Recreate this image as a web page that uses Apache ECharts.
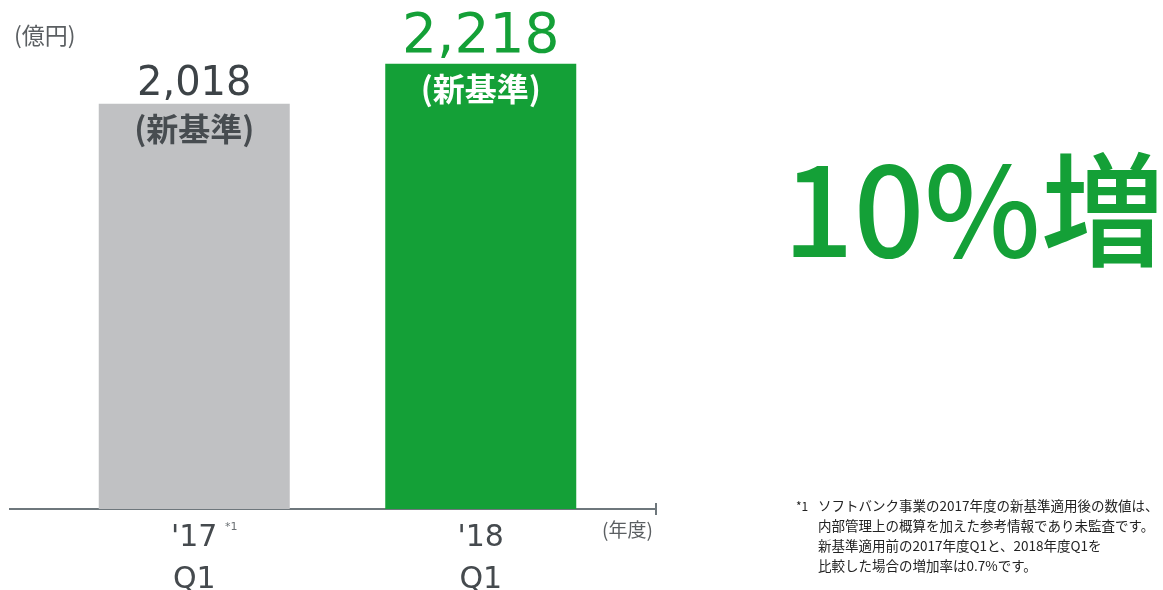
<!DOCTYPE html>
<html lang="ja">
<head>
<meta charset="utf-8">
<title>売上高 Q1</title>
<script src="https://cdn.jsdelivr.net/npm/echarts@6/dist/echarts.min.js"></script>
<style>
  html, body { margin: 0; padding: 0; background: #ffffff; }
  #chart { width: 1163px; height: 590px; }
</style>
</head>
<body>
<div id="chart"></div>
<script>
// Fiscal-year categories and quarter sub-labels
const years = ["'17", "'18"];
const quarters = ['Q1', 'Q1'];
// Revenue (億円), new accounting basis
const revenue = [2018, 2218];
const basisNote = '(新基準)';
const unitLabel = '(億円)';
const yearUnit = '(年度)';
const growthText = '10%増';
const footnoteMark = '*1';
const footnoteLines = [
  'ソフトバンク事業の2017年度の新基準適用後の数値は、',
  '内部管理上の概算を加えた参考情報であり未監査です。',
  '新基準適用前の2017年度Q1と、2018年度Q1を',
  '比較した場合の増加率は0.7%です。'
];

const GRAY = '#c0c1c3';
const GREEN = '#14a037';
const DARK = '#3d4347';
const NUM_FONT = '"DejaVu Sans", sans-serif';
const JP_FONT = '"Noto Sans CJK JP", sans-serif';

const barColors = [GRAY, GREEN];
const valueStyles = [
  { color: DARK, fontSize: 40, distance: -1 },
  { color: GREEN, fontSize: 55, distance: -2 }
];
const noteColors = ['#474c50', '#ffffff'];

const chart = echarts.init(document.getElementById('chart'), null, { renderer: 'canvas' });

const gridTop = 5, gridBottom = 81;
const axisY = 590 - gridBottom;

chart.setOption({
  animation: false,
  backgroundColor: '#ffffff',
  grid: { left: 51, width: 573, top: gridTop, bottom: gridBottom, outerBoundsMode: 'none', containLabel: false },
  xAxis: {
    type: 'category',
    data: years.map((y, i) => y + '\n' + quarters[i]),
    axisLine: { show: false },
    axisTick: { show: false },
    axisLabel: {
      margin: 8,
      color: '#454a4e',
      fontFamily: NUM_FONT,
      fontSize: 30,
      lineHeight: 42
    }
  },
  yAxis: {
    type: 'value',
    min: 0,
    max: 2510,
    show: false,
    splitLine: { show: false }
  },
  series: [
    {
      type: 'bar',
      barWidth: 191,
      data: revenue.map((v, i) => ({
        value: v,
        itemStyle: { color: barColors[i] },
        label: {
          show: true,
          position: 'top',
          distance: valueStyles[i].distance,
          color: valueStyles[i].color,
          fontSize: valueStyles[i].fontSize,
          fontFamily: NUM_FONT,
          formatter: p => p.value.toLocaleString('en-US')
        }
      }))
    },
    {
      // transparent overlay carrying the basis note inside each bar top
      type: 'bar',
      barWidth: 191,
      barGap: '-100%',
      silent: true,
      itemStyle: { color: 'rgba(0,0,0,0)' },
      data: revenue.map((v, i) => ({
        value: v,
        label: {
          show: true,
          position: 'insideTop',
          distance: 9,
          color: noteColors[i],
          fontSize: 32,
          fontWeight: 'bold',
          fontFamily: JP_FONT,
          formatter: basisNote
        }
      }))
    }
  ],
  graphic: [
    { type: 'line', shape: { x1: 9, y1: axisY, x2: 656, y2: axisY },
      style: { stroke: '#6e777c', lineWidth: 2 } },
    { type: 'line', shape: { x1: 656, y1: axisY - 6, x2: 656, y2: axisY + 6 },
      style: { stroke: '#6e777c', lineWidth: 2 } },
    { type: 'text', left: 14, top: 24,
      style: { text: unitLabel, fill: '#5b5f62', font: '23px ' + JP_FONT } },
    { type: 'text', left: 602, top: 520,
      style: { text: yearUnit, fill: '#5b5f62', font: '19px ' + JP_FONT } },
    { type: 'text', left: 225, top: 522,
      style: { text: footnoteMark, fill: '#6b7074', font: '11px ' + NUM_FONT } },
    { type: 'text', left: 783, top: 148,
      style: { text: growthText, fill: GREEN, font: '500 124px ' + JP_FONT } },
    { type: 'text', left: 796, top: 500,
      style: { text: footnoteMark, fill: '#222222', font: '12px ' + JP_FONT } },
    ...footnoteLines.map((t, i) => ({
      type: 'text', left: 818, top: 499 + i * 20,
      style: { text: t, fill: '#222222', font: '13.5px ' + JP_FONT }
    }))
  ]
});
</script>
</body>
</html>
